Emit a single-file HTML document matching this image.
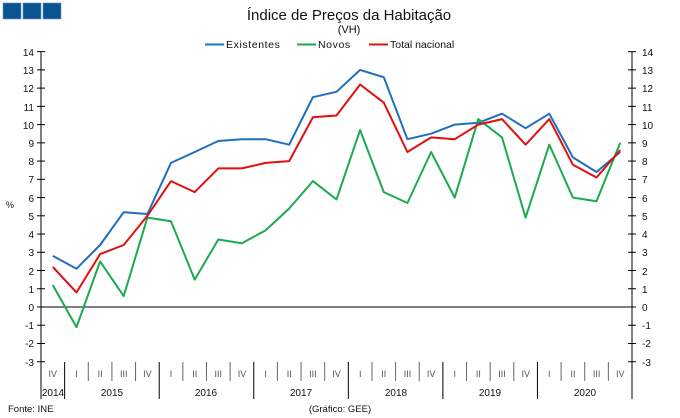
<!DOCTYPE html>
<html><head><meta charset="utf-8"><style>
body{margin:0;background:#fff;}
svg{display:block;font-family:"Liberation Sans",Arial,sans-serif;}
</style></head><body>
<svg id="c" width="680" height="418" viewBox="0 0 680 418" xmlns="http://www.w3.org/2000/svg">
<rect x="3" y="3" width="18" height="16" fill="#0a5496" stroke="#6a8fb8" stroke-width="0.6"/>
<rect x="23" y="3" width="18" height="16" fill="#0a5496" stroke="#6a8fb8" stroke-width="0.6"/>
<rect x="43" y="3" width="18" height="16" fill="#0a5496" stroke="#6a8fb8" stroke-width="0.6"/>
<text x="349" y="20" font-size="15" text-anchor="middle" fill="#111">Índice de Preços da Habitação</text>
<text x="349" y="33" font-size="11" text-anchor="middle" fill="#111">(VH)</text>
<g font-size="10.5" fill="#111">
<line x1="205" y1="44.5" x2="224" y2="44.5" stroke="#1f6fbf" stroke-width="2"/><text x="226" y="48" letter-spacing="0.6">Existentes</text>
<line x1="297" y1="44.5" x2="316" y2="44.5" stroke="#1aaa50" stroke-width="2"/><text x="318" y="48" letter-spacing="0.6">Novos</text>
<line x1="369" y1="44.5" x2="388" y2="44.5" stroke="#e01010" stroke-width="2"/><text x="390" y="48">Total nacional</text>
</g>
<g font-size="10" fill="#111">
<text x="34" y="56" text-anchor="end">14</text><text x="34" y="74" text-anchor="end">13</text><text x="34" y="92" text-anchor="end">12</text><text x="34" y="111" text-anchor="end">11</text><text x="34" y="129" text-anchor="end">10</text><text x="34" y="147" text-anchor="end">9</text><text x="34" y="165" text-anchor="end">8</text><text x="34" y="183" text-anchor="end">7</text><text x="34" y="202" text-anchor="end">6</text><text x="34" y="220" text-anchor="end">5</text><text x="34" y="238" text-anchor="end">4</text><text x="34" y="256" text-anchor="end">3</text><text x="34" y="275" text-anchor="end">2</text><text x="34" y="293" text-anchor="end">1</text><text x="34" y="311" text-anchor="end">0</text><text x="34" y="329" text-anchor="end">-1</text><text x="34" y="347" text-anchor="end">-2</text><text x="34" y="366" text-anchor="end">-3</text>
<text x="642" y="56">14</text><text x="642" y="74">13</text><text x="642" y="92">12</text><text x="642" y="111">11</text><text x="642" y="129">10</text><text x="642" y="147">9</text><text x="642" y="165">8</text><text x="642" y="183">7</text><text x="642" y="202">6</text><text x="642" y="220">5</text><text x="642" y="238">4</text><text x="642" y="256">3</text><text x="642" y="275">2</text><text x="642" y="293">1</text><text x="642" y="311">0</text><text x="642" y="329">-1</text><text x="642" y="347">-2</text><text x="642" y="366">-3</text>
<text x="6" y="208" font-size="9">%</text>
</g>
<g id="ax" stroke="#000" stroke-width="1"></g>
<g id="ser" fill="none" stroke-width="2" stroke-linejoin="round"></g>
<g font-size="9" fill="#555" text-anchor="middle">
<text x="52.8" y="377">IV</text>
<text x="76.5" y="377">I</text><text x="100.1" y="377">II</text><text x="123.8" y="377">III</text><text x="147.4" y="377">IV</text>
<text x="171" y="377">I</text><text x="194.7" y="377">II</text><text x="218.3" y="377">III</text><text x="242" y="377">IV</text>
<text x="265.6" y="377">I</text><text x="289.3" y="377">II</text><text x="312.9" y="377">III</text><text x="336.5" y="377">IV</text>
<text x="360.2" y="377">I</text><text x="383.8" y="377">II</text><text x="407.5" y="377">III</text><text x="431.1" y="377">IV</text>
<text x="454.8" y="377">I</text><text x="478.4" y="377">II</text><text x="502" y="377">III</text><text x="525.7" y="377">IV</text>
<text x="549.3" y="377">I</text><text x="573" y="377">II</text><text x="596.6" y="377">III</text><text x="620.2" y="377">IV</text>
</g>
<g font-size="10" fill="#111" text-anchor="middle">
<text x="53" y="396">2014</text><text x="112" y="396">2015</text><text x="206" y="396">2016</text><text x="301" y="396">2017</text><text x="396" y="396">2018</text><text x="490" y="396">2019</text><text x="585" y="396">2020</text>
</g>
<text x="8" y="412" font-size="9.5" fill="#111">Fonte: INE</text>
<text x="340" y="412" font-size="9.5" fill="#111" text-anchor="middle">(Gráfico: GEE)</text>
</svg>
<script>
var L=41,R=632,W=(R-L)/25;function Y(v){return 307-18.24*v}function X(i){return L+W*(i+0.5)}
var ax=document.getElementById('ax'),h='';
h+='<line x1="'+L+'" y1="52" x2="'+L+'" y2="399"/><line x1="'+R+'" y1="52" x2="'+R+'" y2="399"/>';
h+='<line x1="'+L+'" y1="307" x2="'+R+'" y2="307"/>';
for(var v=-3;v<=14;v++){var y=Y(v);h+='<line x1="'+(L-4)+'" y1="'+y+'" x2="'+(L+4)+'" y2="'+y+'"/><line x1="'+(R-4)+'" y1="'+y+'" x2="'+(R+4)+'" y2="'+y+'"/>';}
for(var i=1;i<25;i++){var x=L+W*i;var yr=(i%4==1);h+='<line x1="'+x+'" y1="362" x2="'+x+'" y2="'+(yr?399:381)+'" stroke="'+(yr?'#000':'#666')+'"/>';}
ax.innerHTML=h;
var E=[2.8,2.1,3.4,5.2,5.1,7.9,8.5,9.1,9.2,9.2,8.9,11.5,11.8,13.0,12.6,9.2,9.5,10.0,10.1,10.6,9.8,10.6,8.2,7.4,8.5];
var N=[1.2,-1.1,2.5,0.6,4.9,4.7,1.5,3.7,3.5,4.2,5.4,6.9,5.9,9.7,6.3,5.7,8.5,6.0,10.3,9.3,4.9,8.9,6.0,5.8,9.0];
var T=[2.2,0.8,2.9,3.4,5.0,6.9,6.3,7.6,7.6,7.9,8.0,10.4,10.5,12.2,11.2,8.5,9.3,9.2,10.0,10.3,8.9,10.3,7.8,7.1,8.6];
function P(d,c){return '<polyline stroke="'+c+'" points="'+d.map(function(v,i){return X(i).toFixed(1)+','+Y(v).toFixed(1)}).join(' ')+'"/>'}
document.getElementById('ser').innerHTML=P(E,'#1f6fbf')+P(N,'#1aaa50')+P(T,'#e01010');
</script>
</body></html>
